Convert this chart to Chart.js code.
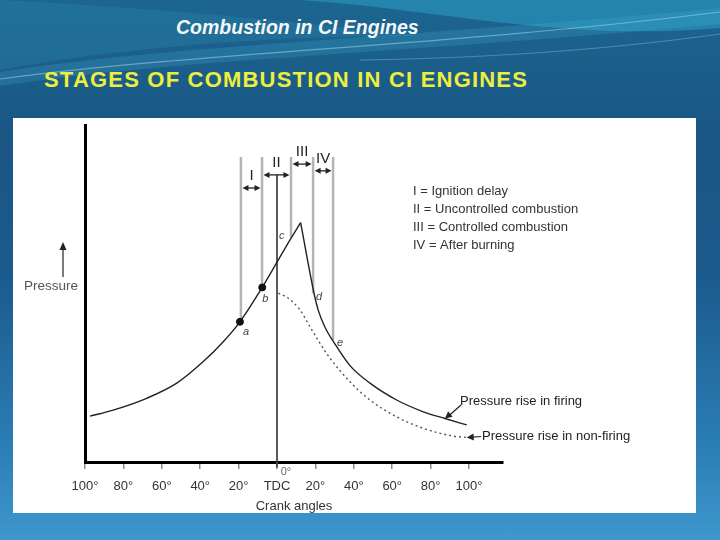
<!DOCTYPE html>
<html>
<head>
<meta charset="utf-8">
<title>Stages of combustion in CI engines</title>
<script src="https://cdn.jsdelivr.net/npm/chart.js@4.4.1/dist/chart.umd.min.js"></script>
<style>
    html, body { margin: 0; padding: 0; }
    body {
        width: 720px; height: 540px; overflow: hidden; position: relative;
        background: linear-gradient(180deg, #1c6690 0%, #1a5584 26%, #1c5b8d 52%, #2a7db5 82%, #3f97ce 100%);
        font-family: "Liberation Sans", Arial, sans-serif;
    }
    #waves { position: absolute; left: 0; top: 0; }
    #heading {
        position: absolute; left: 176px; top: 16px;
        font: italic bold 19.5px "Liberation Sans", Arial, sans-serif; color: #f4f6f8;
    }
    #subheading {
        position: absolute; left: 44px; top: 67px; letter-spacing: 1.2px;
        font: bold 22px "Liberation Sans", Arial, sans-serif; color: #eeee3c;
    }
    #panel { position: absolute; left: 13px; top: 118px; width: 683px; height: 395px; background: #fff; }
</style>
</head>
<body>
<svg id="waves" width="720" height="130">
    <path d="M300,0 C430,8 560,42 720,28 L720,0 Z" fill="#2ea3c9" opacity="0.5"/>
    <path d="M0,0 L0,70 C120,48 260,36 420,36 C300,22 160,8 0,0 Z" fill="#2b86ad" opacity="0.35"/>
    <path d="M0,72 C160,46 380,40 720,8 L720,24 C420,52 190,58 0,86 Z" fill="#45b5d8" opacity="0.22"/>
    <path d="M0,79 C200,52 450,46 720,12" stroke="#d8f2fa" stroke-width="1.2" fill="none" opacity="0.4"/>
    <path d="M360,60 C500,58 620,48 720,34" stroke="#9fdcef" stroke-width="1" fill="none" opacity="0.35"/>
</svg>
<div id="heading">Combustion in CI Engines</div>
<div id="subheading">STAGES OF COMBUSTION IN CI ENGINES</div>
<div id="panel"><canvas id="chart" width="683" height="395"></canvas></div>

<script>
// crank angle in degrees (negative = before TDC), pressure in arbitrary units
const crankTicks = [-100, -80, -60, -40, -20, 0, 20, 40, 60, 80, 100];
const crankTickLabels = ['100°', '80°', '60°', '40°', '20°', 'TDC', '20°', '40°', '60°', '80°', '100°'];

// firing curve: compression + combustion up to the peak
const risingAngles   = [-97.4, -85.3, -67.9, -52.2, -38.4, -28.0, -19.3, -7.7, 5.1, 12.3];
const risingPressure = [13.6, 15.4, 18.9, 23.4, 29.8, 35.7, 41.6, 51.8, 64.3, 71.0];

// firing curve: from the peak through expansion
const fallingAngles   = [12.3, 19.3, 21.5, 25.0, 30.2, 38.0, 48.4, 62.3, 76.2, 87.5, 98.8];
const fallingPressure = [71.0, 50.0, 45.0, 40.0, 35.0, 28.6, 23.4, 18.4, 14.9, 12.9, 11.0];

// non-firing (motoring) curve after TDC
const motoringAngles   = [0.7, 5.9, 12.0, 17.2, 22.4, 27.6, 38.0, 48.4, 62.3, 76.2, 91.7, 98.8];
const motoringPressure = [50.1, 48.6, 45.1, 40.1, 35.2, 30.8, 23.8, 18.4, 13.4, 10.0, 7.7, 7.3];

// points a..e on the firing curve
const pointNames    = ['a', 'b', 'c', 'd', 'e'];
const pointAngles   = [-19.3, -7.7, 5.1, 19.3, 30.2];
const pointPressure = [41.6, 51.8, 64.3, 50.0, 35.0];

// stage boundaries
const stageEdges      = [-18.8, -7.8, 7.3, 18.8, 29.2];
const stageEdgeTop    = 90.5;
const stageEdgeBottom = [41.6, 51.8, 66.8, 50.0, 36.2];
const stageNumerals   = ['I', 'II', 'III', 'IV'];
const stageNames      = ['Ignition delay', 'Uncontrolled combustion', 'Controlled combustion', 'After burning'];
const stageArrowLevel = [81.3, 85.2, 88.4, 86.4];

const tdcTop = 85.2;

const FONT = '"Liberation Sans", Arial, sans-serif';

function toPoints(xs, ys) {
    return xs.map((v, i) => ({ x: v, y: ys[i] }));
}

function arrowHead(ctx, fx, fy, tx, ty, len, half) {
    const a = Math.atan2(ty - fy, tx - fx);
    ctx.beginPath();
    ctx.moveTo(tx, ty);
    ctx.lineTo(tx - len * Math.cos(a) + half * Math.sin(a), ty - len * Math.sin(a) - half * Math.cos(a));
    ctx.lineTo(tx - len * Math.cos(a) - half * Math.sin(a), ty - len * Math.sin(a) + half * Math.cos(a));
    ctx.closePath();
    ctx.fill();
}

const sketchPlugin = {
    id: 'sketch',
    afterDraw(chart) {
        const { ctx } = chart;
        const x = chart.scales.x;
        const y = chart.scales.y;
        ctx.save();
        ctx.fillStyle = '#222';
        ctx.strokeStyle = '#222';

        // stage arrows and numerals
        stageNumerals.forEach((s, i) => {
            const x1 = x.getPixelForValue(stageEdges[i]) + 1.5;
            const x2 = x.getPixelForValue(stageEdges[i + 1]) - 1.5;
            const yy = y.getPixelForValue(stageArrowLevel[i]);
            ctx.lineWidth = 1.3;
            ctx.beginPath();
            ctx.moveTo(x1 + 3, yy);
            ctx.lineTo(x2 - 3, yy);
            ctx.stroke();
            arrowHead(ctx, x2, yy, x1, yy, 6, 3);
            arrowHead(ctx, x1, yy, x2, yy, 6, 3);
            ctx.font = '15px ' + FONT;
            ctx.textAlign = 'center';
            ctx.textBaseline = 'middle';
            ctx.fillText(s, (x1 + x2) / 2, yy - 12);
        });

        // key for the stages
        ctx.fillStyle = '#333';
        ctx.font = '13px ' + FONT;
        ctx.textAlign = 'left';
        ctx.textBaseline = 'middle';
        stageNumerals.forEach((s, i) => {
            ctx.fillText(s + ' = ' + stageNames[i], 400, 73 + i * 18.3);
        });

        // point letters
        const offsets = [[6, 10], [3, 12], [-5, -9], [5, 3], [5, -1]];
        ctx.font = 'italic 11px ' + FONT;
        ctx.fillStyle = '#444';
        ctx.textAlign = 'center';
        pointNames.forEach((n, i) => {
            const px = x.getPixelForValue(pointAngles[i]);
            const py = y.getPixelForValue(pointPressure[i]);
            ctx.fillText(n, px + offsets[i][0], py + offsets[i][1]);
        });

        // 0° mark under TDC
        ctx.font = '11px ' + FONT;
        ctx.fillStyle = '#666';
        ctx.fillText('0°', x.getPixelForValue(0) + 9, y.getPixelForValue(0) + 10);

        // Pressure label with arrow
        ctx.fillStyle = '#555';
        ctx.strokeStyle = '#222';
        ctx.font = '13.5px ' + FONT;
        ctx.fillText('Pressure', 38, 168);
        ctx.lineWidth = 1.2;
        ctx.beginPath();
        ctx.moveTo(50, 159);
        ctx.lineTo(50, 131);
        ctx.stroke();
        ctx.fillStyle = '#222';
        arrowHead(ctx, 50, 159, 50, 124, 8, 3.5);

        // callouts
        ctx.font = '13px ' + FONT;
        ctx.textAlign = 'left';
        ctx.fillStyle = '#222';
        ctx.fillText('Pressure rise in firing', 447, 283);
        const fx = x.getPixelForValue(fallingAngles[9]);
        const fy = y.getPixelForValue(fallingPressure[9]);
        ctx.beginPath();
        ctx.moveTo(448, 287);
        ctx.lineTo(fx + 3, fy - 2);
        ctx.stroke();
        arrowHead(ctx, 448, 287, fx, fy, 7, 3.5);

        ctx.fillText('Pressure rise in non-firing', 469, 318);
        const mx = x.getPixelForValue(motoringAngles[11]);
        const my = y.getPixelForValue(motoringPressure[11]);
        ctx.beginPath();
        ctx.moveTo(468, 318.5);
        ctx.lineTo(mx + 3, my);
        ctx.stroke();
        arrowHead(ctx, 468, 318.5, mx, my, 7, 3.5);

        ctx.restore();
    }
};

const edgeSets = stageEdges.map((e, i) => ({
    data: [{ x: e, y: stageEdgeTop }, { x: e, y: stageEdgeBottom[i] }],
    borderColor: '#b4b4b4',
    borderWidth: 2.5,
    pointRadius: 0,
    tension: 0
}));

new Chart(document.getElementById('chart'), {
    type: 'line',
    data: {
        datasets: [
            {
                label: 'markers',
                data: toPoints(pointAngles, pointPressure),
                showLine: false,
                pointRadius: [3.5, 3.5, 0, 0, 0],
                pointBackgroundColor: '#111',
                pointBorderColor: '#111'
            },
            {
                label: 'Pressure rise in firing',
                data: toPoints(risingAngles, risingPressure),
                borderColor: '#222',
                borderWidth: 1.4,
                pointRadius: 0,
                cubicInterpolationMode: 'monotone'
            },
            {
                label: 'Pressure rise in firing (expansion)',
                data: toPoints(fallingAngles, fallingPressure),
                borderColor: '#222',
                borderWidth: 1.4,
                pointRadius: 0,
                cubicInterpolationMode: 'monotone'
            },
            {
                label: 'Pressure rise in non-firing',
                data: toPoints(motoringAngles, motoringPressure),
                borderColor: '#555',
                borderWidth: 1.4,
                borderDash: [2, 3],
                pointRadius: 0,
                cubicInterpolationMode: 'monotone'
            },
            {
                label: 'TDC',
                data: [{ x: 0, y: tdcTop }, { x: 0, y: -1.6 }],
                borderColor: '#444',
                borderWidth: 1,
                pointRadius: 0,
                clip: false
            },
            ...edgeSets
        ]
    },
    options: {
        responsive: false,
        animation: false,
        layout: { padding: { left: 72, right: 193, top: 7, bottom: 0 } },
        plugins: {
            legend: { display: false },
            tooltip: { enabled: false }
        },
        scales: {
            x: {
                type: 'linear',
                min: -100,
                max: 117.7,
                afterBuildTicks: s => { s.ticks = crankTicks.map(v => ({ value: v })); },
                afterFit: s => { s.height = 51; },
                ticks: {
                    autoSkip: false,
                    maxRotation: 0,
                    padding: 10,
                    color: '#333',
                    font: { family: FONT, size: 13 },
                    callback: (v) => crankTickLabels[crankTicks.indexOf(v)]
                },
                grid: { display: true, drawOnChartArea: false, drawTicks: true, tickLength: 7, color: '#8a8a8a', lineWidth: 1.5 },
                border: { display: true, color: '#000', width: 3 },
                title: {
                    display: true,
                    text: 'Crank angles',
                    color: '#333',
                    font: { family: FONT, size: 13 },
                    padding: { top: 2, bottom: -1.5 }
                }
            },
            y: {
                type: 'linear',
                min: 0,
                max: 100,
                afterFit: s => { s.width = 0; },
                ticks: { display: false },
                grid: { display: false },
                border: { display: true, color: '#000', width: 3 }
            }
        }
    },
    plugins: [sketchPlugin]
});
</script>
</body>
</html>
